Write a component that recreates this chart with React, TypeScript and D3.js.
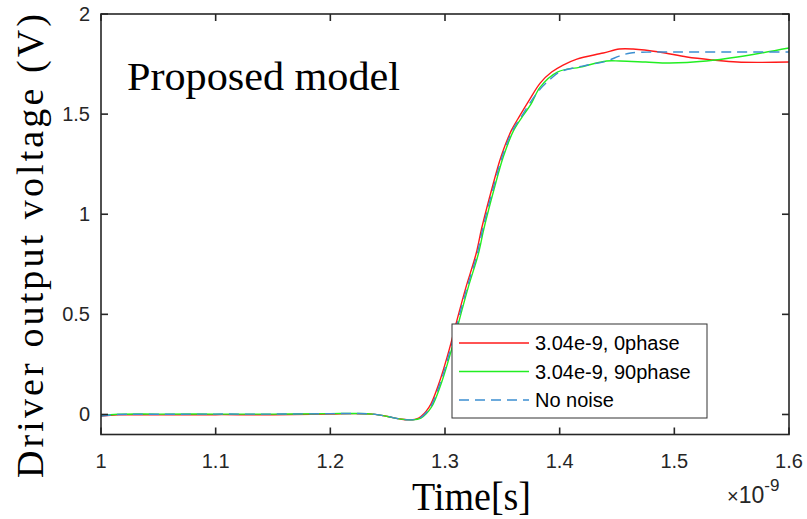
import React from "react";
import * as d3 from "d3";

// Time axis values are in units of 1e-9 s (ns); voltages in V.
const noNoiseT = [1.0, 1.015, 1.05, 1.1, 1.15, 1.2, 1.222, 1.237, 1.25, 1.26, 1.27, 1.278, 1.287, 1.296, 1.304, 1.31, 1.319, 1.328, 1.333, 1.342, 1.35, 1.359, 1.368, 1.374, 1.383, 1.392, 1.4, 1.42, 1.441, 1.452, 1.462, 1.48, 1.5, 1.55, 1.6];
const noNoiseV = [-0.008, 0.0, 0.001, 0.002, 0.002, 0.004, 0.005, 0.002, -0.01, -0.022, -0.027, -0.018, 0.035, 0.16, 0.31, 0.44, 0.63, 0.8, 0.93, 1.13, 1.29, 1.42, 1.5, 1.555, 1.625, 1.675, 1.71, 1.74, 1.765, 1.79, 1.805, 1.81, 1.81, 1.81, 1.81];

const phase0T = [1.0, 1.015, 1.05, 1.1, 1.15, 1.2, 1.222, 1.237, 1.25, 1.26, 1.269, 1.277, 1.286, 1.295, 1.303, 1.309, 1.318, 1.327, 1.332, 1.341, 1.349, 1.358, 1.365, 1.374, 1.383, 1.393, 1.403, 1.415, 1.438, 1.452, 1.464, 1.487, 1.511, 1.534, 1.555, 1.6];
const phase0V = [-0.008, -0.002, -0.002, -0.001, -0.001, 0.002, 0.004, 0.002, -0.01, -0.022, -0.027, -0.018, 0.035, 0.16, 0.31, 0.44, 0.63, 0.8, 0.93, 1.13, 1.29, 1.42, 1.49, 1.575, 1.655, 1.71, 1.745, 1.775, 1.805, 1.825, 1.825, 1.81, 1.785, 1.77, 1.76, 1.76];

const phase90T = [1.0, 1.015, 1.05, 1.1, 1.15, 1.2, 1.222, 1.237, 1.25, 1.26, 1.271, 1.279, 1.288, 1.297, 1.305, 1.311, 1.32, 1.329, 1.334, 1.343, 1.351, 1.36, 1.369, 1.375, 1.383, 1.398, 1.418, 1.441, 1.4525, 1.475, 1.496, 1.528, 1.555, 1.6];
const phase90V = [-0.006, 0.001, 0.002, 0.002, 0.002, 0.004, 0.005, 0.002, -0.01, -0.022, -0.027, -0.018, 0.035, 0.16, 0.31, 0.44, 0.63, 0.8, 0.93, 1.13, 1.29, 1.42, 1.5, 1.55, 1.635, 1.71, 1.735, 1.765, 1.765, 1.76, 1.755, 1.765, 1.785, 1.83];

const xTicks = [1, 1.1, 1.2, 1.3, 1.4, 1.5, 1.6];
const yTicks = [0, 0.5, 1, 1.5, 2];

const legendLabels = ["3.04e-9, 0phase", "3.04e-9, 90phase", "No noise"];

const W = 807;
const H = 519;
const M = { left: 101, right: 789, top: 14, bottom: 434.5 };

const x = d3.scaleLinear().domain([1, 1.6]).range([M.left, M.right]);
const y = d3.scaleLinear().domain([-0.1, 2]).range([M.bottom, M.top]);

const zip = (t: number[], v: number[]): [number, number][] => t.map((ti, i) => [ti, v[i]]);

const line = d3
  .line<[number, number]>()
  .x((d) => x(d[0]))
  .y((d) => y(d[1]))
  .curve(d3.curveCatmullRom.alpha(0.5));

const series = [
  { name: legendLabels[0], data: zip(phase0T, phase0V), color: "#ff1a1a", dash: "" },
  { name: legendLabels[1], data: zip(phase90T, phase90V), color: "#22ee22", dash: "" },
  { name: legendLabels[2], data: zip(noNoiseT, noNoiseV), color: "#3d8fd1", dash: "10,6" },
];

const axisColor = "#262626";
const sans = "'Liberation Sans', Arial, sans-serif";
const serif = "'Liberation Serif', 'Times New Roman', serif";

export default function App() {
  const tickLen = 7;
  return (
    <svg width={W} height={H} style={{ position: "absolute", left: 0, top: 0, background: "#fff" }}>
      <rect x={0} y={0} width={W} height={H} fill="#fff" />
      <defs>
        <clipPath id="plotClip">
          <rect x={M.left} y={M.top} width={M.right - M.left} height={M.bottom - M.top} />
        </clipPath>
      </defs>

      {/* curves */}
      <g clipPath="url(#plotClip)" fill="none">
        {series.map((s) => (
          <path
            key={s.name}
            d={line(s.data) ?? ""}
            stroke={s.color}
            strokeWidth={1.4}
            strokeDasharray={s.dash || undefined}
          />
        ))}
      </g>

      {/* axes box with inward ticks on all sides */}
      <g stroke={axisColor} strokeWidth={1.6} fill="none">
        <rect x={M.left} y={M.top} width={M.right - M.left} height={M.bottom - M.top} />
        {xTicks.map((t) => (
          <g key={"xt" + t}>
            <line x1={x(t)} x2={x(t)} y1={M.bottom} y2={M.bottom - tickLen} />
            <line x1={x(t)} x2={x(t)} y1={M.top} y2={M.top + tickLen} />
          </g>
        ))}
        {yTicks.map((t) => (
          <g key={"yt" + t}>
            <line x1={M.left} x2={M.left + tickLen} y1={y(t)} y2={y(t)} />
            <line x1={M.right} x2={M.right - tickLen} y1={y(t)} y2={y(t)} />
          </g>
        ))}
      </g>

      {/* tick labels */}
      <g fill={axisColor} fontFamily={sans} fontSize={20}>
        {xTicks.map((t) => (
          <text key={"xl" + t} x={x(t)} y={468} textAnchor="middle">
            {d3.format("")(t)}
          </text>
        ))}
        {yTicks.map((t) => (
          <text key={"yl" + t} x={90} y={y(t) + 7} textAnchor="end">
            {d3.format("")(t)}
          </text>
        ))}
        <text x={727} y={503} fontSize={20}>
          ×
          <tspan fontSize={23}>10</tspan>
          <tspan fontSize={17} dy={-12}>-9</tspan>
        </text>
      </g>

      {/* axis titles */}
      <text x={412} y={510} fontFamily={serif} fontSize={40} fill="#000" textLength={119} lengthAdjust="spacingAndGlyphs">
        Time[s]
      </text>
      <text
        transform="translate(43, 478) rotate(-90)"
        x={0}
        y={0}
        fontFamily={serif}
        fontSize={38}
        fill="#000"
        textLength={464}
        lengthAdjust="spacing"
      >
        Driver output voltage (V)
      </text>

      {/* annotation */}
      <text x={127} y={90} fontFamily={serif} fontSize={39} fill="#000" textLength={273} lengthAdjust="spacingAndGlyphs">
        Proposed model
      </text>

      {/* legend */}
      <g>
        <rect x={452} y={324} width={255} height={94} fill="#fff" stroke="#333" strokeWidth={1} />
        {series.map((s, i) => (
          <g key={"lg" + s.name}>
            <line
              x1={459}
              x2={529}
              y1={343 + i * 28.5}
              y2={343 + i * 28.5}
              stroke={s.color}
              strokeWidth={1.4}
              strokeDasharray={s.dash || undefined}
            />
            <text x={535} y={343 + i * 28.5 + 7} fontFamily={sans} fontSize={20} fill="#000">
              {s.name}
            </text>
          </g>
        ))}
      </g>
    </svg>
  );
}
